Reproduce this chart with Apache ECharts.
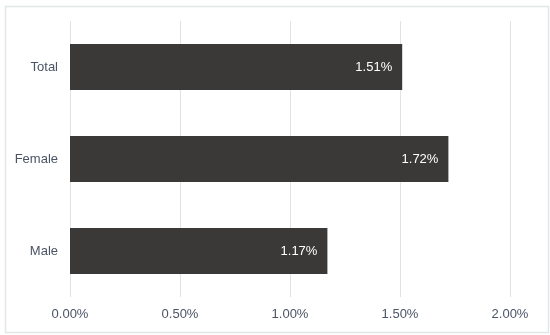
<!DOCTYPE html>
<html><head><meta charset="utf-8">
<script src="https://cdn.jsdelivr.net/npm/echarts@6/dist/echarts.min.js"></script>
<style>html,body{margin:0;padding:0;background:#fff}#c{width:550px;height:335px}</style>
</head><body><div id="c"></div>
<script>
const categories = ['Male', 'Female', 'Total'];
const values = [1.17, 1.72, 1.51];
const xTicks = [0, 0.5, 1, 1.5, 2];

const chart = echarts.init(document.getElementById('c'), null, {renderer: 'canvas'});
chart.setOption({
  animation: false,
  graphic: [{
    type: 'rect', left: 3, top: 4, silent: true,
    shape: {width: 543, height: 326},
    style: {fill: 'none', stroke: '#e3e6e8', lineWidth: 1.5}
  }],
  grid: {left: 70, right: 40, top: 21, bottom: 38},
  xAxis: {
    type: 'value', min: xTicks[0], max: xTicks[xTicks.length - 1], interval: 0.5,
    axisLine: {show: false}, axisTick: {show: false},
    splitLine: {lineStyle: {color: '#dfe3e6', width: 1}},
    axisLabel: {color: '#4a5465', fontSize: 13, fontFamily: 'Liberation Sans, Arial, sans-serif', margin: 11,
      formatter: v => v.toFixed(2) + '%'}
  },
  yAxis: {
    type: 'category', data: categories,
    axisLine: {show: false}, axisTick: {show: false},
    axisLabel: {color: '#4a5465', fontSize: 13, fontFamily: 'Liberation Sans, Arial, sans-serif', margin: 12}
  },
  series: [{
    type: 'bar', data: values, barWidth: '50%',
    itemStyle: {color: '#3b3937'},
    label: {show: true, position: 'insideRight', distance: 10, color: '#ffffff', fontSize: 13,
      fontFamily: 'Liberation Sans, Arial, sans-serif', formatter: p => p.value.toFixed(2) + '%'}
  }]
});
</script></body></html>
